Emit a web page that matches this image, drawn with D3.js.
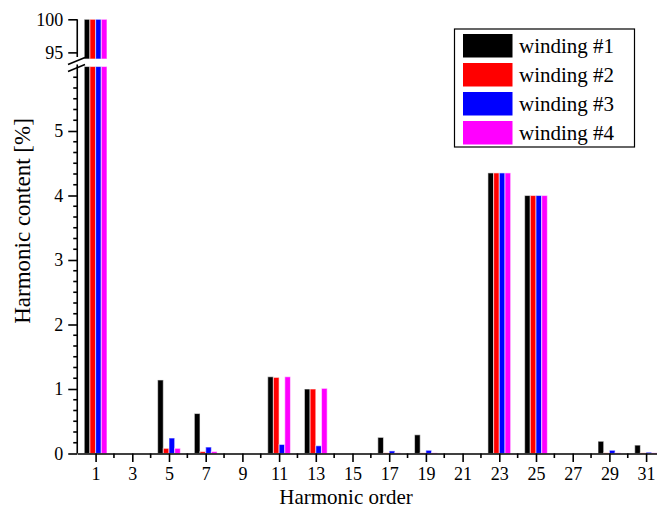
<!DOCTYPE html>
<html>
<head>
<meta charset="utf-8">
<script src="https://cdn.jsdelivr.net/npm/d3@7"></script>
</head>
<body style="margin:0">
<svg id="chart" width="657" height="515" font-family="Liberation Serif"></svg>
<script>
// Harmonic orders shown on the x axis
const harmonics = [1, 3, 5, 7, 9, 11, 13, 15, 17, 19, 21, 23, 25, 27, 29, 31];
// Harmonic content in percent of the fundamental, one array per winding
const winding1 = [100, 0, 1.14, 0.62, 0, 1.19, 1.00, 0, 0.25, 0.29, 0, 4.35, 4.00, 0, 0.19, 0.13];
const winding2 = [100, 0, 0.08, 0.03, 0, 1.18, 1.00, 0, 0.01, 0.01, 0, 4.35, 4.00, 0, 0.01, 0.01];
const winding3 = [100, 0, 0.24, 0.10, 0, 0.14, 0.12, 0, 0.04, 0.05, 0, 4.35, 4.00, 0, 0.05, 0.02];
const winding4 = [100, 0, 0.08, 0.03, 0, 1.19, 1.01, 0, 0.01, 0.01, 0, 4.35, 4.00, 0, 0.01, 0.01];
const seriesNames = ["winding #1", "winding #2", "winding #3", "winding #4"];
const seriesColors = ["#000000", "#ff0000", "#0000ff", "#ff00ff"];
const lowerTicks = [0, 1, 2, 3, 4, 5];
const upperTicks = [95, 100];

const seriesValues = [winding1, winding2, winding3, winding4];
const FONT = '"Liberation Serif"';

const svg = d3.select("#chart");

// Scales: x in harmonic order, y split into a lower (0–6 %) and an upper (94–100 %) segment
const x = d3.scaleLinear().domain([0, 32]).range([77.25, 77.25 + 32 * 18.35]);
const yLow = d3.scaleLinear().domain([0, 6]).range([453.5, 66.5]);
const yHigh = d3.scaleLinear().domain([94, 100]).range([59, 19.3]);
const lowMax = 6, highMin = 94;

// Sub-band for the four windings inside each harmonic group (in harmonic units)
const sub = d3.scaleBand().domain(seriesNames).range([-0.62, 0.62]);
const bw = x(sub.bandwidth()) - x(0);

const bars = [];
seriesValues.forEach((vals, si) => {
  vals.forEach((v, i) => {
    bars.push({ h: harmonics[i], v, name: seriesNames[si], color: seriesColors[si] });
  });
});

const gBars = svg.append("g");
bars.forEach(d => {
  const bx = x(d.h + sub(d.name));
  if (d.v > lowMax) {
    gBars.append("rect")
      .attr("x", bx).attr("width", bw)
      .attr("y", yLow(lowMax)).attr("height", yLow(0) - yLow(lowMax))
      .attr("fill", d.color);
    gBars.append("rect")
      .attr("x", bx).attr("width", bw)
      .attr("y", yHigh(d.v)).attr("height", yHigh(highMin) - yHigh(d.v))
      .attr("fill", d.color);
  } else if (d.v > 0) {
    gBars.append("rect")
      .attr("x", bx).attr("width", bw)
      .attr("y", yLow(d.v)).attr("height", yLow(0) - yLow(d.v))
      .attr("fill", d.color);
  }
});
gBars.selectAll("rect")
  .attr("stroke", "#ffffff").attr("stroke-opacity", 0.55).attr("stroke-width", 1.1);

const axisStroke = 1.6;

// Bottom axis: labelled odd orders, minor ticks at even orders
const xAxis = d3.axisBottom(x)
  .tickValues(harmonics)
  .tickSize(8.5).tickSizeOuter(0).tickPadding(5)
  .tickFormat(d3.format("d"));
const gx = svg.append("g").attr("transform", `translate(0,${yLow(0)})`).call(xAxis);
const evenOrders = d3.range(2, 33, 2);
gx.selectAll(".minor").data(evenOrders).enter().append("line")
  .attr("class", "minor")
  .attr("x1", d => x(d)).attr("x2", d => x(d))
  .attr("y1", 0).attr("y2", 4.5);

// Lower left axis with five minor ticks per unit
const yAxisLow = d3.axisLeft(yLow)
  .tickValues(lowerTicks).tickSize(9).tickSizeOuter(0).tickPadding(5)
  .tickFormat(d3.format("d"));
const gyl = svg.append("g").attr("transform", `translate(${x(0)},0)`).call(yAxisLow);
gyl.select(".domain").attr("d", `M0,${yLow(0)}V${yLow(lowMax) - 2}`);
const lowMinor = [];
for (let k = 1; k < 36; k++) if (k % 6 !== 0) lowMinor.push(k / 6);
gyl.selectAll(".minor").data(lowMinor).enter().append("line")
  .attr("class", "minor")
  .attr("x1", 0).attr("x2", -4)
  .attr("y1", d => yLow(d)).attr("y2", d => yLow(d));

// Upper left axis segment
const yAxisHigh = d3.axisLeft(yHigh)
  .tickValues(upperTicks).tickSize(9).tickSizeOuter(0).tickPadding(5)
  .tickFormat(d3.format("d"));
const gyh = svg.append("g").attr("transform", `translate(${x(0)},0)`).call(yAxisHigh);
gyh.select(".domain").attr("d", `M0,${yHigh(100)}V${yHigh(highMin) - 2}`);

// Axis break marks
const brk = svg.append("g").attr("stroke", "#000").attr("stroke-width", 1.6);
brk.append("line").attr("x1", 68).attr("y1", 64.5).attr("x2", 85).attr("y2", 57.5);
brk.append("line").attr("x1", 68).attr("y1", 71.5).attr("x2", 85).attr("y2", 64.5);

[gx, gyl, gyh].forEach(g => {
  g.attr("font-family", "Liberation Serif");
  g.selectAll("path, line").attr("stroke", "#000").attr("stroke-width", axisStroke);
  g.selectAll("text").attr("font-size", 18).attr("fill", "#000")
    .attr("font-family", "Liberation Serif")
    .style("font-family", FONT, "important");
});

// Axis titles
svg.append("text")
  .attr("x", 346).attr("y", 504)
  .attr("text-anchor", "middle")
  .attr("font-size", 21)
  .attr("font-family", "Liberation Serif")
  .style("font-family", FONT, "important")
  .text("Harmonic order");
svg.append("text")
  .attr("transform", "translate(30,221) rotate(-90)")
  .attr("text-anchor", "middle")
  .attr("font-size", 23)
  .attr("font-family", "Liberation Serif")
  .style("font-family", FONT, "important")
  .text("Harmonic content [%]");

// Legend
const legend = svg.append("g");
legend.append("rect")
  .attr("x", 454.5).attr("y", 29).attr("width", 180).attr("height", 118)
  .attr("fill", "#fff").attr("stroke", "#000").attr("stroke-width", 1.2);
seriesNames.forEach((name, i) => {
  const yy = 34 + i * 29;
  legend.append("rect")
    .attr("x", 463).attr("y", yy).attr("width", 49.5).attr("height", 23.5)
    .attr("fill", seriesColors[i]);
  legend.append("text")
    .attr("x", 519).attr("y", yy + 19)
    .attr("font-size", 21)
    .attr("font-family", "Liberation Serif")
    .style("font-family", FONT, "important")
    .text(name);
});
</script>
</body>
</html>
